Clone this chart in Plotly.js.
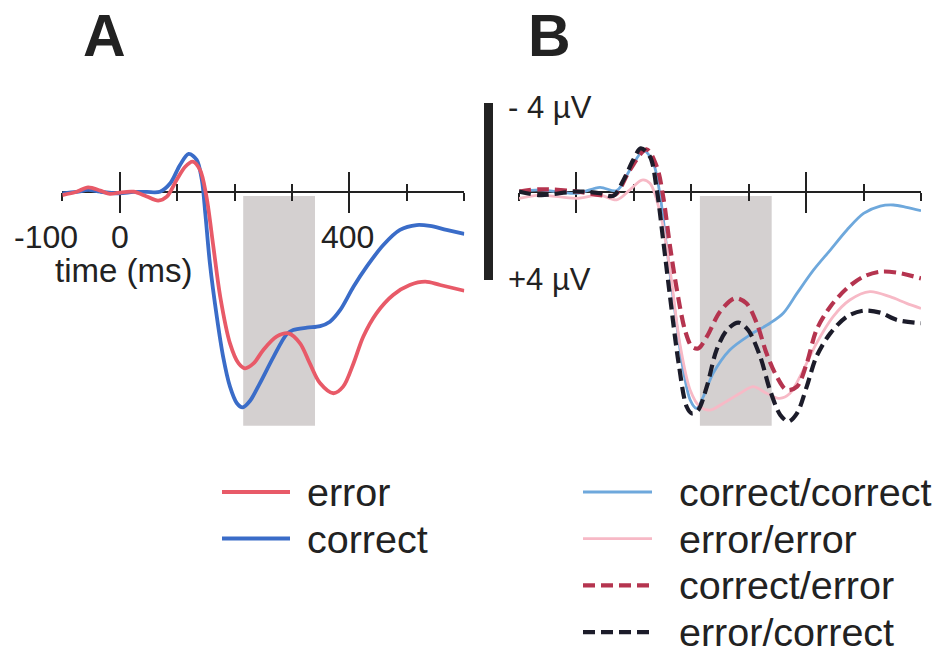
<!DOCTYPE html>
<html>
<head>
<meta charset="utf-8">
<script src="https://cdn.plot.ly/plotly-3.0.1.min.js"></script>
<style>html,body{margin:0;padding:0;background:#fff;}#chart{width:943px;height:654px;}</style>
</head>
<body>
<div id="chart"></div>
<script>
// ---------- data (time in ms, amplitude in µV; negative plotted up) ----------
const tErrorA   = [-100,-75,-55,-34,-17,-1,24,47,67,82,99,114,127,140,151,163,175,192,207,218,233,250,273,294,314,331,349,372,389,407,424,447,476,505,532,558,600];
const vErrorA   = [0.16,0.01,-0.19,-0.04,0.11,0.05,0.01,0.23,0.41,0.23,-0.52,-1.12,-1.35,-0.97,0.23,2.49,4.76,6.87,7.78,8.0,7.78,7.17,6.57,6.42,6.87,7.78,8.68,9.13,8.83,7.78,6.57,5.51,4.68,4.23,4.08,4.23,4.49];
const tCorrectA = [-100,-75,-55,-34,-1,24,47,70,88,105,120,134,143,149,157,169,180,192,204,214,227,244,268,291,302,326,349,366,384,407,430,459,488,517,540,569,600];
const vCorrectA = [0.08,0.02,-0.07,0.01,0.08,0.02,0.02,0.01,-0.37,-1.2,-1.7,-1.43,-0.52,0.99,3.25,5.66,7.47,8.83,9.58,9.77,9.47,8.68,7.47,6.45,6.27,6.16,6.09,5.89,5.36,4.31,3.4,2.42,1.74,1.52,1.56,1.74,1.92];

const tCC = [-100,-63,0,41,70,93,117,134,146,157,172,186,198,209,221,238,267,302,337,360,384,413,442,471,500,529,552,575,600];
const vCC = [0,-0.07,0.08,-0.19,-0.04,-0.97,-1.85,-1.27,0.23,2.49,5.51,8.08,9.43,9.81,9.28,8.23,7.17,6.49,5.96,5.51,4.61,3.55,2.65,1.74,0.99,0.66,0.61,0.72,0.87];
const tEE = [-100,-63,0,41,70,93,114,128,146,163,180,198,215,233,256,285,308,331,354,372,395,418,447,476,511,546,575,600];
const vEE = [0.31,0.16,0.31,0.16,0.38,-0.07,-0.52,-0.37,0.99,3.55,6.87,8.98,9.74,9.89,9.58,9.13,8.83,9.13,9.36,9.13,8.08,6.87,5.66,4.91,4.53,4.76,5.06,5.29];
const tCE = [-100,-63,0,41,67,93,122,140,151,163,175,189,201,212,227,250,276,296,314,331,349,366,384,401,418,442,471,500,529,558,600];
const vCE = [0,-0.1,0,0.16,0.16,-0.97,-1.91,-1.12,0.23,2.49,4.46,6.27,7.02,7.10,6.57,5.44,4.83,5.06,5.96,7.32,8.38,8.98,8.83,7.78,6.27,5.21,4.38,3.85,3.63,3.67,3.93];
const tEC = [-100,-63,0,41,64,82,99,112,128,140,151,163,178,192,201,212,227,244,262,282,299,320,337,355,369,384,401,418,442,471,500,529,558,600];
const vEC = [0,0.16,0,0.08,0.2,-0.52,-1.43,-1.95,-1.58,-0.07,2.19,4.76,7.78,9.74,10.04,9.89,8.83,7.17,6.27,5.93,6.27,7.47,8.98,10.11,10.41,10.04,8.83,7.47,6.42,5.66,5.39,5.48,5.81,5.96];

const namesA = ['error', 'correct'];
const namesB = ['correct/correct', 'error/error', 'correct/error', 'error/correct'];
const window_ms = [215, 340];       // shaded analysis window
const windowAmp = [0.2, 10.6];      // its vertical extent (µV)
const scaleBar = [-4, 4];           // µV scale bar
const scaleLabels = ['- 4 µV', '+4 µV'];
const tickLabelVals = [-100, 0, 400];
const tickLabelText = ['-100', '0', '400'];
const xAxisTitle = 'time (ms)';
const panelLetters = ['A', 'B'];

// ---------- layout geometry ----------
const W = 943, H = 654;
const px = x => x / W;
const py = y => (H - y) / H;
const FONT = 'Liberation Sans, Arial, Helvetica, sans-serif';
const TXT = '#222222';

const sty = {
  'error':           {color: '#e85a68', width: 3.8, dash: 'solid'},
  'correct':         {color: '#3a6cc8', width: 3.8, dash: 'solid'},
  'correct/correct': {color: '#6ea8dc', width: 2.8, dash: 'solid'},
  'error/error':     {color: '#f7b9c6', width: 2.8, dash: 'solid'},
  'correct/error':   {color: '#b5344f', width: 4.2, dash: '12px,6px'},
  'error/correct':   {color: '#1c1c2a', width: 4.2, dash: '12px,6px'}
};

function tr(name, t, v, xa, ya) {
  const s = sty[name];
  return {x: t, y: v, name: name, type: 'scatter', mode: 'lines', xaxis: xa, yaxis: ya,
          line: {color: s.color, width: s.width, dash: s.dash, shape: 'spline', smoothing: 0.9},
          showlegend: false, hoverinfo: 'skip'};
}

const traces = [
  tr('correct', tCorrectA, vCorrectA, 'x', 'y'),
  tr('error', tErrorA, vErrorA, 'x', 'y'),
  tr('correct/correct', tCC, vCC, 'x2', 'y2'),
  tr('error/error', tEE, vEE, 'x2', 'y2'),
  tr('correct/error', tCE, vCE, 'x2', 'y2'),
  tr('error/correct', tEC, vEC, 'x2', 'y2'),
  // empty helpers so the upward-tick overlay axes get drawn
  {x: [], y: [], xaxis: 'x3', yaxis: 'y', showlegend: false, type: 'scatter'},
  {x: [], y: [], xaxis: 'x4', yaxis: 'y2', showlegend: false, type: 'scatter'}
];

const yTop = 95, yBot = 445, zeroPx = 191.5, pxPerUV = 22.1;
const yRange = [(yBot - zeroPx) / pxPerUV, (yTop - zeroPx) / pxPerUV];
const yDomain = [py(yBot), py(yTop)];
const domA = [px(62.3), px(464.3)];
const domB = [px(519), px(921)];
const zeroPos = py(zeroPx);

function xAx(dom, overlay, tickDir) {
  const a = {
    domain: dom, range: [-100, 600], anchor: 'free', position: zeroPos,
    showgrid: false, zeroline: false, showticklabels: false, fixedrange: true,
    layer: 'below traces',
    showline: !overlay, linecolor: TXT, linewidth: 2,
    ticks: tickDir, tickmode: 'linear', tick0: 0, dtick: 400, ticklen: 20, tickwidth: 2, tickcolor: TXT,
    minor: {ticks: tickDir, tickmode: 'linear', tick0: 0, dtick: 100, ticklen: 8, tickwidth: 2, tickcolor: TXT}
  };
  if (overlay) a.overlaying = overlay;
  return a;
}
function yAx(anchor) {
  return {domain: yDomain, range: yRange, visible: false, fixedrange: true, anchor: anchor};
}

const shapes = [
  {type: 'rect', xref: 'x', yref: 'y', x0: window_ms[0], x1: window_ms[1], y0: windowAmp[0], y1: windowAmp[1],
   fillcolor: '#d4d0d0', line: {width: 0}, layer: 'below'},
  {type: 'rect', xref: 'x2', yref: 'y2', x0: window_ms[0], x1: window_ms[1], y0: windowAmp[0], y1: windowAmp[1],
   fillcolor: '#d4d0d0', line: {width: 0}, layer: 'below'},
  {type: 'line', xref: 'paper', yref: 'y', x0: px(488.5), x1: px(488.5), y0: scaleBar[0], y1: scaleBar[1],
   line: {color: TXT, width: 9}}
];

const annotations = [];
function ann(o) {
  annotations.push(Object.assign({showarrow: false, font: {family: FONT, size: 32, color: TXT}}, o));
}
// panel letters
ann({text: '<b>' + panelLetters[0] + '</b>', xref: 'paper', yref: 'paper', x: px(104), y: py(1), xanchor: 'center', yanchor: 'top', font: {family: FONT, size: 59, color: TXT}});
ann({text: '<b>' + panelLetters[1] + '</b>', xref: 'paper', yref: 'paper', x: px(549), y: py(1), xanchor: 'center', yanchor: 'top', font: {family: FONT, size: 59, color: TXT}});
// tick labels (panel A)
const tickLabelShift = {'-100': -16, '0': 0, '400': -2};
tickLabelVals.forEach((v, i) => {
  ann({text: tickLabelText[i], xref: 'x', yref: 'paper', x: v, y: py(237), xanchor: 'center', yanchor: 'middle',
       xshift: tickLabelShift[tickLabelText[i]]});
});
ann({text: xAxisTitle, xref: 'paper', yref: 'paper', x: px(123), y: py(270), xanchor: 'center', yanchor: 'middle', font: {family: FONT, size: 33, color: TXT}});
// scale bar labels
ann({text: scaleLabels[0], xref: 'paper', yref: 'y', x: px(506), y: scaleBar[0], yshift: -4, xanchor: 'left', yanchor: 'middle', font: {family: FONT, size: 31, color: TXT}});
ann({text: scaleLabels[1], xref: 'paper', yref: 'y', x: px(506), y: scaleBar[1], xanchor: 'left', yanchor: 'middle', font: {family: FONT, size: 31, color: TXT}});

// legends (line swatch + label), built from the series styles
function legend(names, lineX0, lineX1, textX, y0, step) {
  names.forEach((n, i) => {
    const s = sty[n];
    const yy = y0 + i * step;
    shapes.push({type: 'line', xref: 'paper', yref: 'paper', x0: px(lineX0), x1: px(lineX1), y0: py(yy), y1: py(yy),
                 line: {color: s.color, width: s.width, dash: s.dash}});
    ann({text: n, xref: 'paper', yref: 'paper', x: px(textX), y: py(yy), xanchor: 'left', yanchor: 'middle',
         font: {family: FONT, size: 39.5, color: TXT}});
  });
}
legend(namesA, 222, 290, 305, 492, 46.5);
legend(namesB, 583, 652, 677, 492, 46.7);

const layout = {
  width: W, height: H, margin: {l: 0, r: 0, t: 0, b: 0},
  paper_bgcolor: '#ffffff', plot_bgcolor: 'rgba(0,0,0,0)',
  showlegend: false,
  xaxis: xAx(domA, null, 'outside'),
  xaxis2: xAx(domB, null, 'outside'),
  xaxis3: xAx(domA, 'x', 'inside'),
  xaxis4: xAx(domB, 'x2', 'inside'),
  yaxis: yAx('x'),
  yaxis2: yAx('x2'),
  shapes: shapes,
  annotations: annotations,
  font: {family: FONT, color: TXT}
};

Plotly.newPlot('chart', traces, layout, {displayModeBar: false, staticPlot: true});
</script>
</body>
</html>
